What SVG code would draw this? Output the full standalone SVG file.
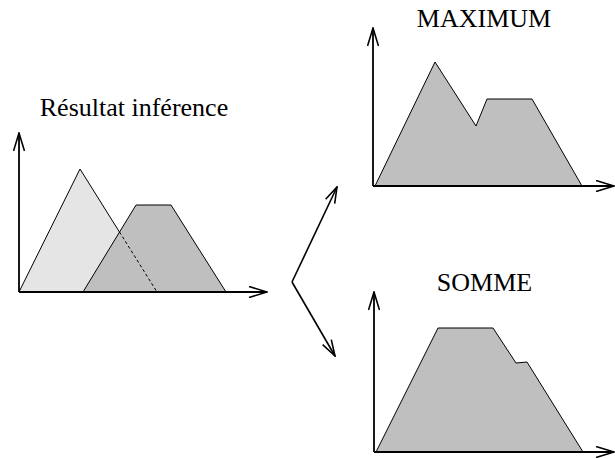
<svg xmlns="http://www.w3.org/2000/svg" width="615" height="459" viewBox="0 0 615 459">
  <style>
    .title { font-family: "Liberation Serif", "Times New Roman", serif; font-size: 26px; fill: #000; text-anchor: middle; }
    .axis { fill: none; stroke: #000; stroke-width: 1.8; }
    .shape { stroke: #000; stroke-width: 1; stroke-linejoin: miter; }
    .light { fill: #e5e5e5; }
    .mid { fill: #bfbfbf; }
    .conn { fill: none; stroke: #000; stroke-width: 1.6; }
  </style>
  <defs>
    <marker id="axisHead" markerUnits="userSpaceOnUse" viewBox="0 0 20 12" markerWidth="20" markerHeight="12" refX="19" refY="6" orient="auto">
      <path d="M1,0.5 L19,6 L1,11.5" fill="none" stroke="#000" stroke-width="1.6"/>
    </marker>
    <marker id="connHead" markerUnits="userSpaceOnUse" viewBox="0 0 18 12" markerWidth="18" markerHeight="12" refX="17" refY="6" orient="auto">
      <path d="M1,1 L17,6 L1,11" fill="none" stroke="#000" stroke-width="1.6"/>
    </marker>
  </defs>

  <g id="inference">
    <text class="title" x="134" y="116">Résultat inférence</text>
    <polygon class="shape light" points="19,292 80,169 157,292"/>
    <polygon class="shape mid" points="83,292 136,205 171,205 226,292"/>
    <line x1="119.5" y1="232" x2="157" y2="292" stroke="#000" stroke-width="1" stroke-dasharray="3,2.5"/>
    <line class="axis" x1="19" y1="292" x2="19" y2="133" marker-end="url(#axisHead)"/>
    <line class="axis" x1="19" y1="292" x2="267" y2="292" marker-end="url(#axisHead)"/>
  </g>

  <g id="maximum">
    <text class="title" x="484" y="27">MAXIMUM</text>
    <polygon class="shape mid" points="375,186 435,62 476,126 487,99 532,99 582,186"/>
    <line class="axis" x1="373" y1="186" x2="373" y2="28" marker-end="url(#axisHead)"/>
    <line class="axis" x1="373" y1="186" x2="614" y2="186" marker-end="url(#axisHead)"/>
  </g>

  <g id="somme">
    <text class="title" x="484.5" y="291">SOMME</text>
    <polygon class="shape mid" points="376,452 438,328 493,328 516,363 527,362 583,452"/>
    <line class="axis" x1="374" y1="452" x2="374" y2="292" marker-end="url(#axisHead)"/>
    <line class="axis" x1="374" y1="452" x2="614" y2="452" marker-end="url(#axisHead)"/>
  </g>

  <g id="connectors">
    <line class="conn" x1="292" y1="282" x2="337" y2="187" marker-end="url(#connHead)"/>
    <line class="conn" x1="292" y1="282" x2="335" y2="356" marker-end="url(#connHead)"/>
  </g>
</svg>
